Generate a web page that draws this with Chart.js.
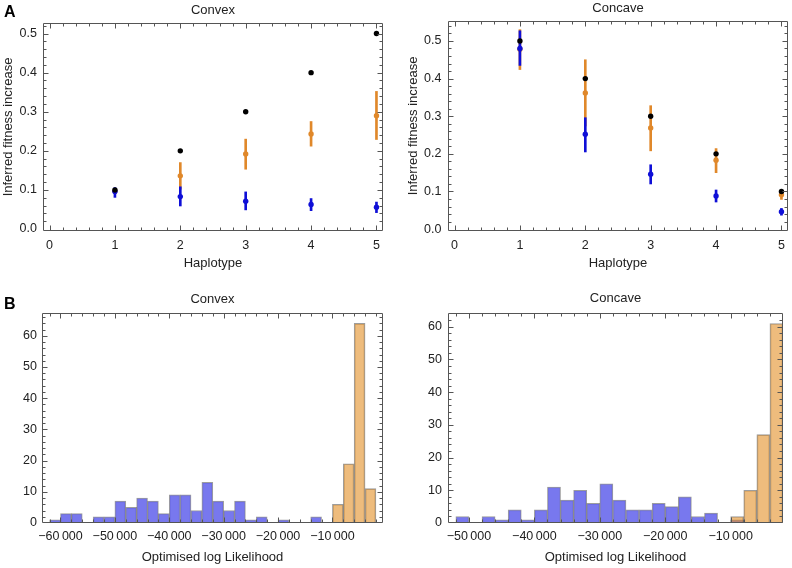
<!DOCTYPE html>
<html>
<head>
<meta charset="utf-8">
<title>Inferred fitness and optimised log likelihood</title>
<script src="https://cdn.jsdelivr.net/npm/chart.js"></script>
<style>
  body { margin: 0; background: #fff; }
  #page { position: relative; width: 792px; height: 568px; overflow: hidden; }
  canvas { position: absolute; }
  .panel-label {
    position: absolute;
    font: bold 16px 'Liberation Sans', Arial, Helvetica, sans-serif;
    line-height: 16px;
    color: #000;
  }
</style>
</head>
<body>
<div id="page">
  <canvas id="convexFit" width="396" height="275" style="left:0;top:0"></canvas>
  <canvas id="concaveFit" width="396" height="275" style="left:396px;top:0"></canvas>
  <canvas id="convexHist" width="396" height="278" style="left:0;top:290px"></canvas>
  <canvas id="concaveHist" width="396" height="278" style="left:396px;top:290px"></canvas>
  <div class="panel-label" style="left:4px;top:4px">A</div>
  <div class="panel-label" style="left:4px;top:296px">B</div>
</div>
<script>
// ---- data ----
const haplotypes = [1, 2, 3, 4, 5];

// A, convex
const convexTrue = [0.1, 0.2, 0.3, 0.4, 0.5];
const convexOrange = [0.097, 0.136, 0.192, 0.243, 0.290];
const convexOrangeLow = [0.090, 0.102, 0.153, 0.212, 0.229];
const convexOrangeHigh = [0.104, 0.170, 0.230, 0.275, 0.352];
const convexBlue = [0.096, 0.083, 0.071, 0.063, 0.056];
const convexBlueLow = [0.081, 0.059, 0.049, 0.047, 0.042];
const convexBlueHigh = [0.106, 0.108, 0.095, 0.078, 0.069];

// A, concave
const concaveTrue = [0.5, 0.4, 0.3, 0.2, 0.1];
const concaveOrange = [0.478, 0.362, 0.269, 0.183, 0.091];
const concaveOrangeLow = [0.424, 0.274, 0.208, 0.150, 0.079];
const concaveOrangeHigh = [0.530, 0.450, 0.328, 0.214, 0.101];
const concaveBlue = [0.480, 0.252, 0.146, 0.088, 0.046];
const concaveBlueLow = [0.435, 0.205, 0.120, 0.072, 0.037];
const concaveBlueHigh = [0.527, 0.296, 0.171, 0.104, 0.055];

// B, histograms (bins of 2000)
const binWidth = 2000;
const convexBlueStart = -62000;
const convexBlueCounts = [1, 3, 3, 0, 2, 2, 7, 5, 8, 7, 3, 9, 9, 4, 13, 7, 4, 7, 1, 2, 0, 1, 0, 0, 2];
const convexOrangeStart = -10000;
const convexOrangeCounts = [6, 19, 64, 11];
const concaveBlueStart = -52000;
const concaveBlueCounts = [2, 0, 2, 1, 4, 1, 4, 11, 7, 10, 6, 12, 7, 4, 4, 6, 5, 8, 2, 3, 0, 1];
const concaveOrangeStart = -10000;
const concaveOrangeCounts = [2, 10, 27, 61];

// tick labels
const fitXTicks = [0, 1, 2, 3, 4, 5];
const fitYTicks = [0, 0.1, 0.2, 0.3, 0.4, 0.5];
const histYTicks = [0, 10, 20, 30, 40, 50, 60];
const convexHistXTicks = [-60000, -50000, -40000, -30000, -20000, -10000];
const concaveHistXTicks = [-50000, -40000, -30000, -20000, -10000];

// ---- styling ----
const FAMILY = "'Liberation Sans', Arial, Helvetica, sans-serif";
const TICK_FONT = {family: FAMILY, size: 12.5};
const LABEL_FONT = {family: FAMILY, size: 13};
const TEXT = '#222';
const FRAME = '#555';
const ORANGE = 'rgb(224,136,42)';
const BLUE = 'rgb(15,15,215)';
const HIST_BLUE = 'rgba(96,96,235,0.85)';
const HIST_ORANGE = 'rgba(226,143,38,0.6)';
const HIST_EDGE = 'rgba(60,60,60,0.5)';

// frame with inward ticks on all four sides, plus the panel title
const framePlugin = {
  id: 'frame',
  afterDatasetsDraw(chart, args, o) {
    const {ctx, chartArea: a} = chart;
    const sx = chart.scales.x, sy = chart.scales.y;
    const steps = (min, max, step) => {
      const out = [];
      for (let k = Math.ceil(min / step - 1e-9); k * step <= max + 1e-9; k++) out.push(k * step);
      return out;
    };
    const isMajor = (v, major) => Math.abs(v / major - Math.round(v / major)) < 1e-6;
    const l = Math.round(a.left) + 0.5, r = Math.round(a.right) - 0.5;
    const t = Math.round(a.top) + 0.5, b = Math.round(a.bottom) - 0.5;
    ctx.save();
    ctx.strokeStyle = FRAME;
    ctx.lineWidth = 1;
    ctx.beginPath();
    ctx.rect(l, t, r - l, b - t);
    steps(sx.min, sx.max, o.xMinor).forEach(v => {
      const len = isMajor(v, o.xMajor) ? 5 : 3;
      const px = Math.round(sx.getPixelForValue(v)) + 0.5;
      if (px <= l + 1 || px >= r - 1) return;
      ctx.moveTo(px, b); ctx.lineTo(px, b - len);
      ctx.moveTo(px, t); ctx.lineTo(px, t + len);
    });
    steps(sy.min, sy.max, o.yMinor).forEach(v => {
      const len = isMajor(v, o.yMajor) ? 5 : 3;
      const py = Math.round(sy.getPixelForValue(v)) + 0.5;
      if (py <= t + 1 || py >= b - 1) return;
      ctx.moveTo(l, py); ctx.lineTo(l + len, py);
      ctx.moveTo(r, py); ctx.lineTo(r - len, py);
    });
    ctx.stroke();
    ctx.fillStyle = TEXT;
    ctx.font = '13px ' + FAMILY;
    ctx.textAlign = 'center';
    ctx.textBaseline = 'middle';
    ctx.fillText(o.title, (a.left + a.right) / 2, o.titleY);
    ctx.restore();
  }
};
Chart.register(framePlugin);

function fixedTicks(values) {
  return scale => { scale.ticks = values.map(v => ({value: v})); };
}

function minusLabel(v) {
  const s = String(Math.abs(v)).replace(/\B(?=(\d{3})+(?!\d))/g, '\u2009');
  return v < 0 ? '\u2212' + s : s;
}

function fitChart(id, truth, orange, oLow, oHigh, blue, bLow, bHigh, o) {
  const pts = ys => haplotypes.map((h, i) => ({x: h, y: ys[i]}));
  const bars = (lo, hi) => haplotypes.map((h, i) => ({x: h, y: [lo[i], hi[i]]}));
  const point = color => ({backgroundColor: color, borderColor: color, pointRadius: 2.7, pointBorderWidth: 0});
  const errBar = color => ({type: 'bar', backgroundColor: color, borderWidth: 0, barThickness: 2, grouped: false});
  return new Chart(document.getElementById(id), {
    type: 'scatter',
    data: {
      datasets: [
        {...errBar(ORANGE), data: bars(oLow, oHigh), order: 4},
        {...point(ORANGE), data: pts(orange), order: 3},
        {...errBar(BLUE), data: bars(bLow, bHigh), order: 2},
        {...point(BLUE), data: pts(blue), order: 1},
        {...point('#000'), data: pts(truth), order: 0}
      ]
    },
    options: {
      responsive: false,
      animation: false,
      events: [],
      layout: {padding: {left: 0, right: o.padRight, top: o.padTop, bottom: 0}},
      plugins: {
        legend: {display: false},
        tooltip: {enabled: false},
        frame: {title: o.title, titleY: o.titleY, xMajor: 1, xMinor: 0.2, yMajor: 0.1, yMinor: 0.02}
      },
      scales: {
        x: {
          type: 'linear', min: -0.1, max: 5.1, offset: false,
          grid: {display: false, drawTicks: false}, border: {display: false},
          afterBuildTicks: fixedTicks(fitXTicks),
          afterFit: s => { s.height = o.xHeight; },
          ticks: {padding: 7, color: TEXT, font: TICK_FONT, maxRotation: 0, autoSkip: false,
                  callback: v => String(v)},
          title: {display: true, text: 'Haplotype', color: TEXT, font: LABEL_FONT,
                  padding: {top: 0, bottom: 3.5}}
        },
        y: {
          type: 'linear', min: -0.005, max: o.yMax,
          grid: {display: false, drawTicks: false}, border: {display: false},
          afterBuildTicks: fixedTicks(fitYTicks),
          afterFit: s => { s.width = o.yWidth; },
          ticks: {padding: o.yTickPad, color: TEXT, font: TICK_FONT, autoSkip: false,
                  callback: v => v.toFixed(1)},
          title: {display: true, text: 'Inferred fitness increase', color: TEXT, font: LABEL_FONT,
                  padding: {top: o.yTitlePad, bottom: 0}}
        }
      }
    }
  });
}

function histChart(id, blueStart, blueCounts, orangeStart, orangeCounts, xTicks, o) {
  const bins = (start, counts) => counts.map((c, i) => ({x: start + binWidth * (i + 0.5), y: c}));
  const bar = {barPercentage: 1, categoryPercentage: 1, grouped: false, borderWidth: 1, borderColor: HIST_EDGE};
  return new Chart(document.getElementById(id), {
    type: 'bar',
    data: {
      datasets: [
        {...bar, data: bins(blueStart, blueCounts), backgroundColor: HIST_BLUE, order: 1},
        {...bar, data: bins(orangeStart, orangeCounts), backgroundColor: HIST_ORANGE, order: 0}
      ]
    },
    options: {
      responsive: false,
      animation: false,
      events: [],
      layout: {padding: {left: 0, right: o.padRight, top: o.padTop, bottom: 0}},
      plugins: {
        legend: {display: false},
        tooltip: {enabled: false},
        frame: {title: o.title, titleY: o.titleY, xMajor: 10000, xMinor: 2000, yMajor: 10, yMinor: 2}
      },
      scales: {
        x: {
          type: 'linear', min: o.xMin, max: o.xMax, offset: false,
          grid: {display: false, drawTicks: false}, border: {display: false},
          afterBuildTicks: fixedTicks(xTicks),
          afterFit: s => { s.height = o.xHeight; },
          ticks: {padding: 6, color: TEXT, font: TICK_FONT, maxRotation: 0, autoSkip: false,
                  callback: v => minusLabel(v)},
          title: {display: true, text: 'Optimised log Likelihood', color: TEXT, font: LABEL_FONT,
                  padding: {top: 0, bottom: 2.5}}
        },
        y: {
          type: 'linear', min: 0, max: o.yMax,
          grid: {display: false, drawTicks: false}, border: {display: false},
          afterBuildTicks: fixedTicks(histYTicks),
          afterFit: s => { s.width = o.yWidth; },
          ticks: {padding: o.yTickPad, color: TEXT, font: TICK_FONT, autoSkip: false}
        }
      }
    }
  });
}

fitChart('convexFit', convexTrue, convexOrange, convexOrangeLow, convexOrangeHigh,
  convexBlue, convexBlueLow, convexBlueHigh,
  {title: 'Convex', titleY: 10, padTop: 23, padRight: 13, yWidth: 43, xHeight: 44,
   yMax: 0.527, yTickPad: 6, yTitlePad: 0.5});

fitChart('concaveFit', concaveTrue, concaveOrange, concaveOrangeLow, concaveOrangeHigh,
  concaveBlue, concaveBlueLow, concaveBlueHigh,
  {title: 'Concave', titleY: 8.5, padTop: 21, padRight: 2, yWidth: 52, xHeight: 44,
   yMax: 0.553, yTickPad: 6.5, yTitlePad: 9.5});

histChart('convexHist', convexBlueStart, convexBlueCounts, convexOrangeStart, convexOrangeCounts,
  convexHistXTicks,
  {title: 'Convex', titleY: 9, padTop: 23, padRight: 13, yWidth: 42, xHeight: 45,
   xMin: -63400, xMax: -700, yMax: 67.3, yTickPad: 5});

histChart('concaveHist', concaveBlueStart, concaveBlueCounts, concaveOrangeStart, concaveOrangeCounts,
  concaveHistXTicks,
  {title: 'Concave', titleY: 8.5, padTop: 23, padRight: 9, yWidth: 52, xHeight: 45,
   xMin: -53200, xMax: -2000, yMax: 64.2, yTickPad: 6});
</script>
</body>
</html>
